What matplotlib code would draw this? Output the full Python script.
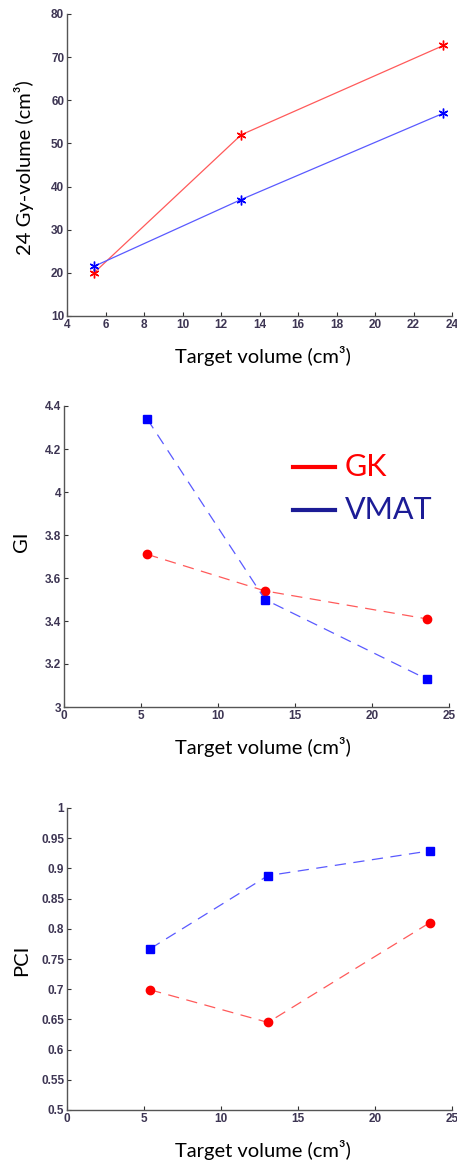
import matplotlib
matplotlib.use("Agg")
import matplotlib.pyplot as plt
from matplotlib.lines import Line2D

# datos
x_vol = [5.4, 13.05, 23.55]

gk_v24 = [20.0, 52.0, 72.7]
vmat_v24 = [21.5, 37.0, 57.0]

gk_gi = [3.71, 3.54, 3.41]
vmat_gi = [4.34, 3.50, 3.13]

gk_pci = [0.699, 0.645, 0.81]
vmat_pci = [0.767, 0.888, 0.929]

red_line = '#ff5a5a'
blue_line = '#5a5aff'
tick_col = '#3d3553'
label_font = 'Lato'

# fuente de los ticks: Arial en negrita
plt.rcParams['font.family'] = 'Liberation Sans'
plt.rcParams['font.weight'] = 'bold'

fig = plt.figure(figsize=(4.57, 11.65), dpi=100)
W, H = 457, 1165

def make_ax(left, top, right, bottom):
    ax = fig.add_axes([left / W, 1 - bottom / H, (right - left) / W, (bottom - top) / H])
    for s in ['top', 'right']:
        ax.spines[s].set_visible(False)
    for s in ['left', 'bottom']:
        ax.spines[s].set_color('#555555')
        ax.spines[s].set_linewidth(1.0)
    ax.tick_params(direction='in', length=3, width=0.8, color='#333333',
                   labelsize=8.5, labelcolor=tick_col, pad=2)
    return ax

# panel 1
ax1 = make_ax(67, 14, 452, 316)
ax1.plot(x_vol, gk_v24, color=red_line, lw=0.9)
ax1.plot(x_vol, gk_v24, ls='none', marker=(6, 2, 0), ms=7, mew=1.0, color='#ff0000')
ax1.plot(x_vol, vmat_v24, color=blue_line, lw=0.9)
ax1.plot(x_vol, vmat_v24, ls='none', marker=(6, 2, 0), ms=7, mew=1.0, color='#0000ff')
ax1.set_xlim(4, 24)
ax1.set_ylim(10, 80)
ax1.set_xticks(range(4, 25, 2))
ax1.set_yticks(range(10, 81, 10))

# panel 2
ax2 = make_ax(64, 406, 449, 707)
ax2.plot(x_vol, gk_gi, color=red_line, lw=0.9, dashes=(9, 6))
ax2.plot(x_vol, gk_gi, ls='none', marker='o', ms=6, color='#ff0000')
ax2.plot(x_vol, vmat_gi, color=blue_line, lw=0.9, dashes=(9, 6))
ax2.plot(x_vol, vmat_gi, ls='none', marker='s', ms=6, color='#0000ff')
ax2.set_xlim(0, 25)
ax2.set_ylim(3, 4.4)
ax2.set_xticks(range(0, 26, 5))
ax2.set_yticks([3, 3.2, 3.4, 3.6, 3.8, 4, 4.2, 4.4])
ax2.set_yticklabels(['3', '3.2', '3.4', '3.6', '3.8', '4', '4.2', '4.4'])

# leyenda
for ly, name, col in [(467, 'GK', '#ff0000'), (510, 'VMAT', '#1c1c96')]:
    fig.add_artist(Line2D([293 / W, 335 / W], [1 - ly / H, 1 - ly / H], color=col, lw=3))
    fig.text(345 / W, 1 - ly / H, name, color=col, fontsize=22, family=label_font,
             fontweight='normal', va='center', ha='left')

# panel 3
ax3 = make_ax(67, 808, 452, 1110)
ax3.plot(x_vol, gk_pci, color=red_line, lw=0.9, dashes=(9, 6))
ax3.plot(x_vol, gk_pci, ls='none', marker='o', ms=6, color='#ff0000')
ax3.plot(x_vol, vmat_pci, color=blue_line, lw=0.9, dashes=(9, 6))
ax3.plot(x_vol, vmat_pci, ls='none', marker='s', ms=6, color='#0000ff')
ax3.set_xlim(0, 25)
ax3.set_ylim(0.5, 1)
ax3.set_xticks(range(0, 26, 5))
ax3.set_yticks([0.5, 0.55, 0.6, 0.65, 0.7, 0.75, 0.8, 0.85, 0.9, 0.95, 1])
ax3.set_yticklabels(['0.5', '0.55', '0.6', '0.65', '0.7', '0.75', '0.8', '0.85', '0.9', '0.95', '1'])

# etiquetas de ejes
for xy, yy in [(263, 356), (263, 747), (263, 1150)]:
    fig.text(xy / W, 1 - yy / H, 'Target volume (cm³)', fontsize=14.5, family=label_font,
             fontweight='normal', ha='center', va='center')
fig.text(24 / W, 1 - 168 / H, '24 Gy-volume (cm³)', fontsize=14.5, family=label_font,
         fontweight='normal', ha='center', va='center', rotation=90)
fig.text(22 / W, 1 - 542 / H, 'GI', fontsize=14.5, family=label_font,
         fontweight='normal', ha='center', va='center', rotation=90)
fig.text(22 / W, 1 - 960 / H, 'PCI', fontsize=14.5, family=label_font,
         fontweight='normal', ha='center', va='center', rotation=90)

fig.savefig('out.png', dpi=100)
